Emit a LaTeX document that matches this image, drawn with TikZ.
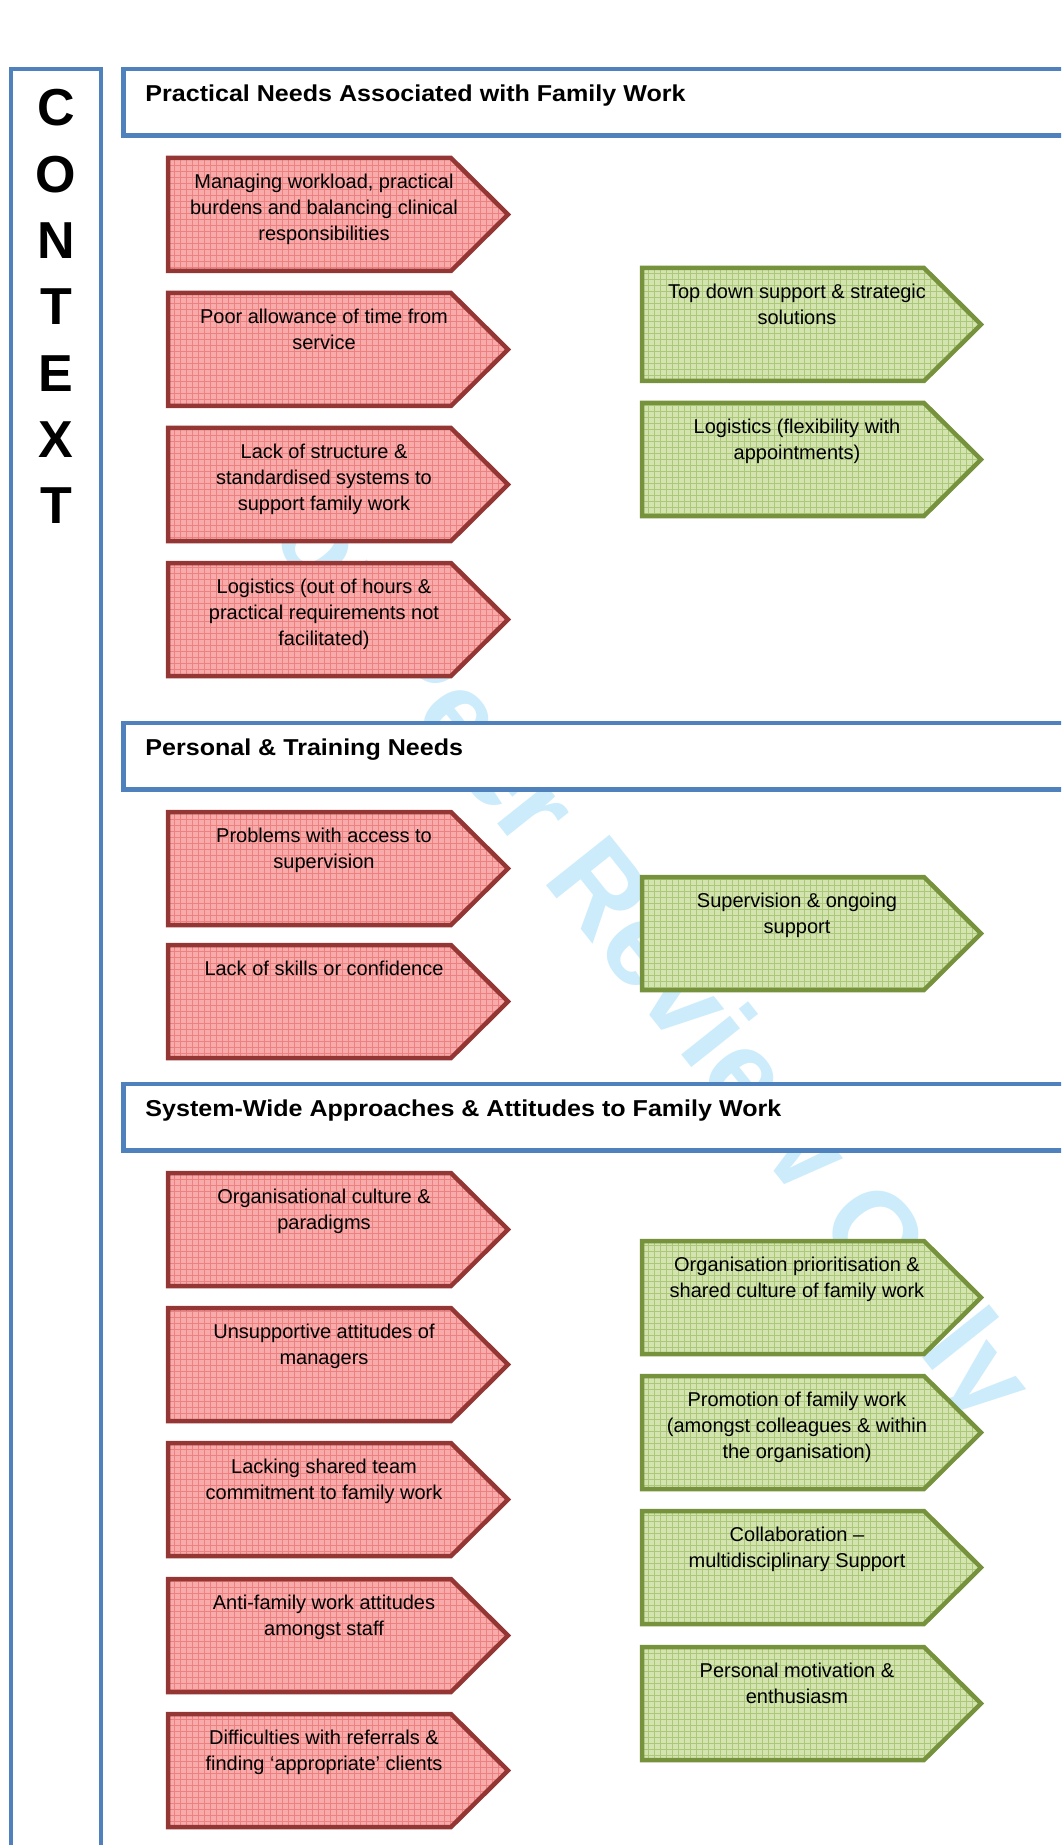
\documentclass[tikz,border=0pt]{standalone}
\usepackage{fontspec}
\setmainfont{Liberation Sans}
\newfontfamily\headfont[FakeStretch=1.09]{Liberation Sans}
\usetikzlibrary{patterns.meta}
\definecolor{frameblue}{HTML}{4F81BD}
\definecolor{barrierline}{HTML}{943634}
\definecolor{barrierfill}{HTML}{F7ABAB}
\definecolor{barriergrid}{HTML}{EF8080}
\definecolor{solutionline}{HTML}{76923C}
\definecolor{solutionfill}{HTML}{D3E4B0}
\definecolor{solutiongrid}{HTML}{AAC878}
\definecolor{peerblue}{RGB}{205,236,251}
% barrier on the left: name, top edge, text
\newcommand{\barrierarrow}[3]{%
  \draw[barrierbox] (168,#2) -- (451,#2) -- (508,#2+56.5)
    -- (451,#2+113) -- (168,#2+113) -- cycle;
  \node[arrowtext] (#1) at (324,#2+16) {#3};}
% solution on the right: name, top edge, text
\newcommand{\solutionarrow}[3]{%
  \draw[solutionbox] (642,#2) -- (924,#2) -- (981,#2+56.5)
    -- (924,#2+113) -- (642,#2+113) -- cycle;
  \node[arrowtext] (#1) at (797,#2+16) {#3};}

\begin{document}
\begin{tikzpicture}[
  x=0.5pt,
  y=-0.5pt,
  every node/.style={inner sep=0pt, black},
  framebox/.style={draw=frameblue, line width=2.25pt},
  barrierbox/.style={preaction={fill=barrierfill},
                     pattern={Hatch[distance=3pt, line width=0.4pt]},
                     pattern color=barriergrid, fill opacity=0.85,
                     draw=barrierline, line width=2.25pt, line join=miter},
  solutionbox/.style={preaction={fill=solutionfill},
                      pattern={Hatch[distance=3pt, line width=0.4pt]},
                      pattern color=solutiongrid, fill opacity=0.85,
                      draw=solutionline, line width=2.25pt, line join=miter},
  arrowtext/.style={anchor=north, align=center,
                    font=\fontsize{10}{13}\selectfont},
  heading/.style={anchor=base west,
                  font=\headfont\fontsize{11.5}{13}\selectfont\bfseries},
  letter/.style={anchor=base, font=\fontsize{26}{30}\selectfont\bfseries},
  peer/.style={text=peerblue, rotate=-51.5,
               font=\fontsize{59}{66}\selectfont\bfseries}
]
  \useasboundingbox (0,0) rectangle (1061,1845);
  \clip (0,0) rectangle (1061,1845);

  % ---- watermark, showing faintly through the arrows ----------------------
  \node[peer] (review) at (625,935) {For Peer Review Only};

  % ---- practical needs ---------------------------------------------------
  \barrierarrow{workload}{158}{Managing workload, practical\\burdens and balancing clinical\\responsibilities}
  \barrierarrow{time}{293}{Poor allowance of time from\\service}
  \barrierarrow{structure}{428}{Lack of structure \&\\standardised systems to\\support family work}
  \barrierarrow{hours}{563}{Logistics (out of hours \&\\practical requirements not\\facilitated)}
  \solutionarrow{topdown}{268}{Top down support \& strategic\\solutions}
  \solutionarrow{flexible}{403}{Logistics (flexibility with\\appointments)}

  % ---- personal and training needs ----------------------------------------
  \barrierarrow{access}{812}{Problems with access to\\supervision}
  \barrierarrow{skills}{945}{Lack of skills or confidence}
  \solutionarrow{ongoing}{877}{Supervision \& ongoing\\support}

  % ---- system-wide approaches ---------------------------------------------
  \barrierarrow{culture}{1173}{Organisational culture \&\\paradigms}
  \barrierarrow{managers}{1308}{Unsupportive attitudes of\\managers}
  \barrierarrow{commitment}{1443}{Lacking shared team\\commitment to family work}
  \barrierarrow{antifamily}{1579}{Anti-family work attitudes\\amongst staff}
  \barrierarrow{referrals}{1714}{Difficulties with referrals \&\\finding ‘appropriate’ clients}
  \solutionarrow{priority}{1241}{Organisation prioritisation \&\\shared culture of family work}
  \solutionarrow{promotion}{1376}{Promotion of family work\\(amongst colleagues \& within\\the organisation)}
  \solutionarrow{collab}{1511}{Collaboration –\\multidisciplinary Support}
  \solutionarrow{motivation}{1647}{Personal motivation \&\\enthusiasm}

  % ---- section headings ----------------------------------------------------
  \draw[framebox, fill=white] (123.5,69) rectangle (1090,135.5);
  \node[heading] (practical) at (145,101.7) {Practical Needs Associated with Family Work};
  \draw[framebox, fill=white] (123.5,723) rectangle (1090,789.5);
  \node[heading] (personal) at (145,755.7) {Personal \& Training Needs};
  \draw[framebox, fill=white] (123.5,1084) rectangle (1090,1150.5);
  \node[heading] (system) at (145,1116.7) {System-Wide Approaches \& Attitudes to Family Work};

  % ---- context column ------------------------------------------------------
  \draw[framebox] (11,1870) -- (11,69) -- (101,69) -- (101,1870);
  \foreach \l [count=\i] in {C,O,N,T,E,X,T}
    \node[letter] (ctx\i) at (56,{126+66.3*(\i-1)}) {\l};
\end{tikzpicture}
\end{document}
